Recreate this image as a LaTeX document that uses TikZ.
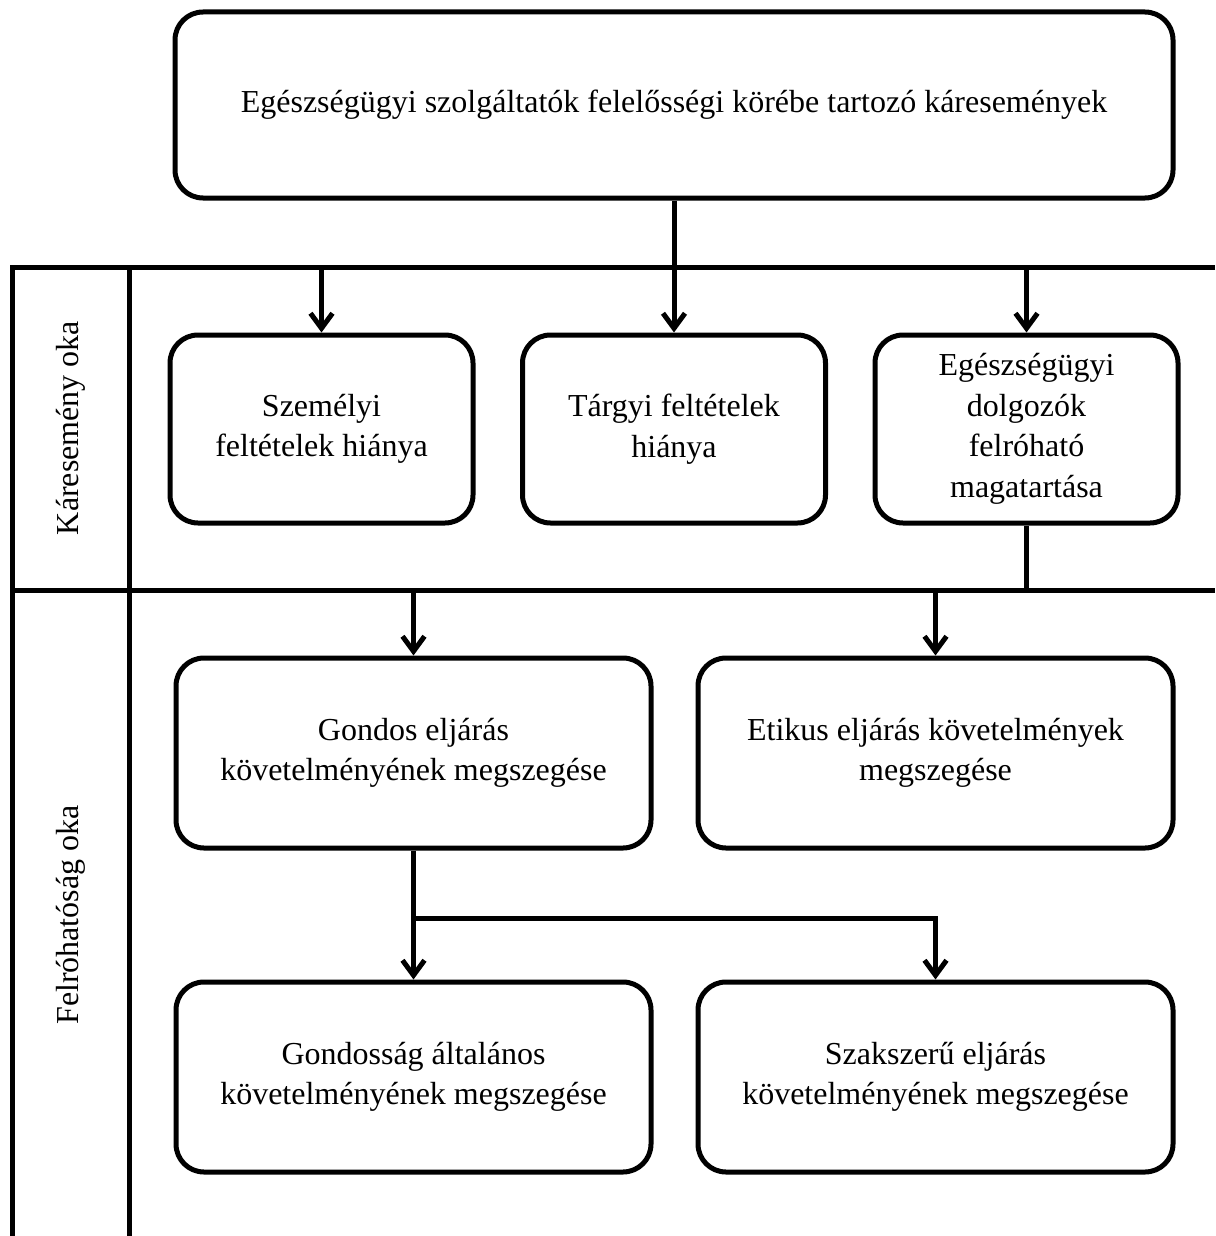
\documentclass[tikz,border=0pt]{standalone}
\usepackage{fontspec}
\setmainfont{Liberation Serif}
\usetikzlibrary{arrows.meta, positioning, calc}

\begin{document}
\begin{tikzpicture}[x=1pt,y=-1pt,line width=5pt,
                    font=\fontsize{32}{40.5}\selectfont,
                    box/.style={draw,rounded corners=28pt,align=center,inner sep=0pt},
                    arr/.style={-{Straight Barb[length=15pt,width=22pt]}},
                    lane label/.style={rotate=90}]

  \useasboundingbox (0,0) rectangle (1215,1236);

  % lanes
  \coordinate (lt) at (12,267);
  \coordinate (lm) at (12,590);
  \draw (1215,267) -- (lt) -- (12,1236);
  \draw (lm) -- (1215,590);
  \draw (129,267) -- (129,1236);
  \node[lane label] (l1) at (70.5,428) {Káresemény oka};
  \node[lane label] (l2) at (70.5,915) {Felróhatóság oka};

  % boxes
  \node[box,minimum width=998,minimum height=186] (top) at (674,105)
    {Egészségügyi szolgáltatók felelősségi körébe tartozó káresemények};

  \node[box,minimum width=303,minimum height=188] (r1b) at (674,429)
    {Tárgyi feltételek\\hiánya};
  \node[box,minimum width=303,minimum height=188] (r1a) [left=44.5pt of r1b]
    {Személyi\\feltételek hiánya};
  \node[box,minimum width=303,minimum height=188] (r1c) [right=44.5pt of r1b]
    {Egészségügyi\\dolgozók\\felróható\\magatartása};

  \node[box,minimum width=475,minimum height=190] (r2a) at (413.5,753)
    {Gondos eljárás\\követelményének megszegése};
  \node[box,minimum width=475,minimum height=190] (r2b) at (935.5,753)
    {Etikus eljárás követelmények\\megszegése};

  \node[box,minimum width=475,minimum height=190] (r3a) at (413.5,1077)
    {Gondosság általános\\követelményének megszegése};
  \node[box,minimum width=475,minimum height=190] (r3b) at (935.5,1077)
    {Szakszerű eljárás\\követelményének megszegése};

  % connectors
  \draw[arr] (top) -- (r1b);
  \draw[arr] (r1a.north |- lt) -- (r1a);
  \draw[arr] (r1c.north |- lt) -- (r1c);
  \draw (r1c) -- (r1c.south |- lm);
  \draw[arr] (r2a.north |- lm) -- (r2a);
  \draw[arr] (r2b.north |- lm) -- (r2b);

  \coordinate (split) at ($(r2a.south)+(0,68)$);
  \draw[arr] (r2a) -- (r3a);
  \draw[arr,line cap=rect] (split) -| (r3b);

\end{tikzpicture}
\end{document}
